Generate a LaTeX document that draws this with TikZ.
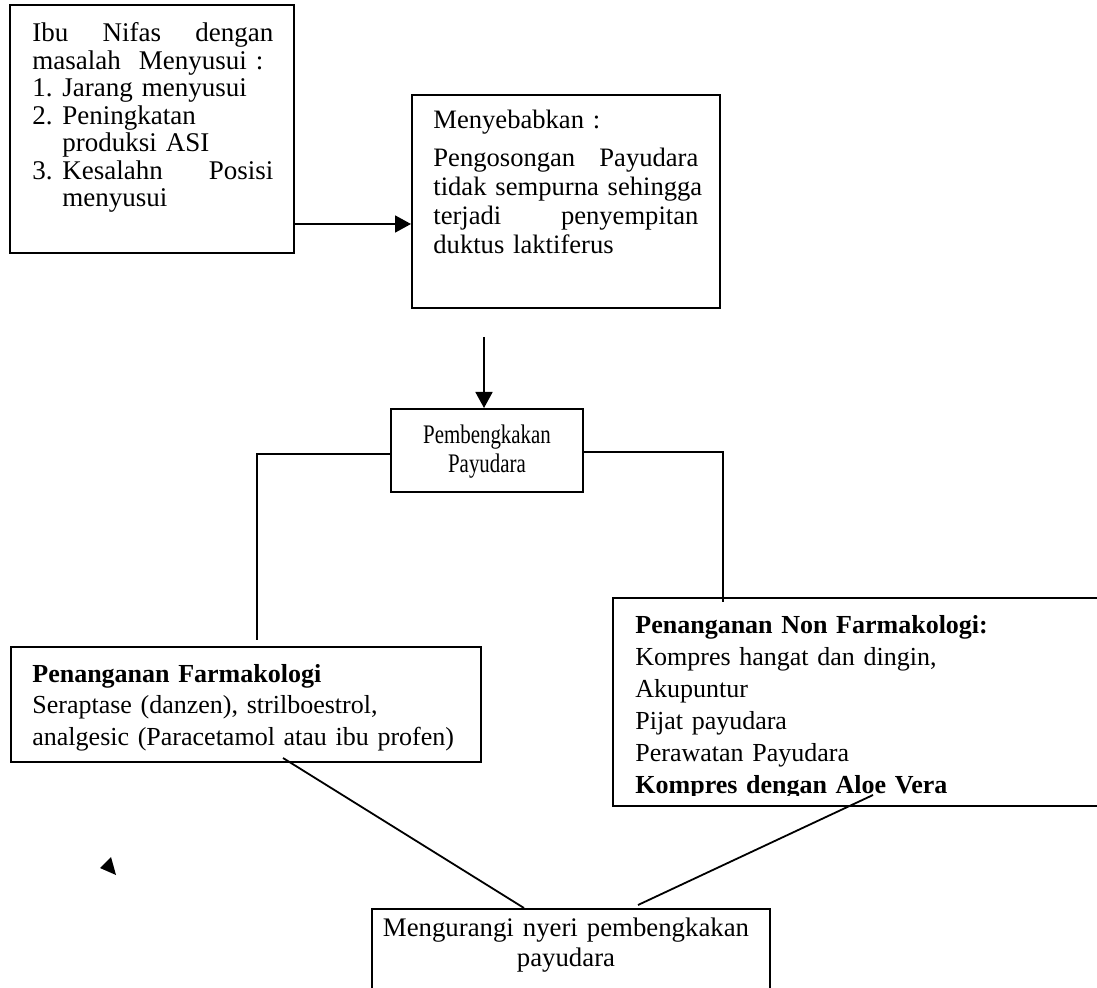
\documentclass[tikz,border=0pt]{standalone}
\usepackage{fontspec}
\setmainfont{Liberation Serif}
\usetikzlibrary{arrows.meta,fit}
\begin{document}
\begin{tikzpicture}[x=0.5pt,y=-0.5pt,
  box/.style={draw, line width=1pt, inner sep=0pt, rectangle},
  conn/.style={line width=0.9pt},
  arr/.style={conn, -{Triangle[length=8pt,width=8.5pt]}},
  txt/.style={inner sep=0pt, anchor=base west, align=left},
  ctxt/.style={inner sep=0pt, anchor=base, align=center},
]
\useasboundingbox (0,0) rectangle (1097,988);

% boxes
\node[box, fit={(10,5) (294,253)}] (box1) {};
\node[box, fit={(412,95) (720,308)}] (box2) {};
\node[box, fit={(391,409) (583,492)}] (box3) {};
\node[box, fit={(613,598) (1110,806)}] (box4) {};
\node[box, fit={(11,647) (481,762)}] (box5) {};
\node[box, fit={(372,909) (770,1010)}] (box6) {};

% texts
\node[txt, text width=120.5pt, font=\fontsize{13.5pt}{13.75pt}\selectfont] (t1) at (32,42) {%
Ibu\hfill Nifas\hfill dengan\\
masalah~ Menyusui :\\
\makebox[15pt][l]{1.}Jarang menyusui\\
\makebox[15pt][l]{2.}Peningkatan\\
\hspace*{15pt}produksi ASI\\
\makebox[15pt][l]{3.}Kesalahn\hfill Posisi\\
\hspace*{15pt}menyusui};

\node[txt, text width=132.5pt, font=\fontsize{13.3pt}{14.5pt}\selectfont] (t2) at (433,129) {%
Menyebabkan :\\[4.5pt]
Pengosongan\hfill Payudara\\
\makebox[\linewidth][s]{tidak sempurna sehingga}\\
terjadi\hfill penyempitan\\
duktus laktiferus};

\node[ctxt, text width=90pt, font=\fontsize{13.4pt}{14.25pt}\selectfont] (t3) at (487,444) {%
\scalebox{0.78}[1]{Pembengkakan}\\\scalebox{0.78}[1]{Payudara}};

\node[txt, text width=230pt, font=\fontsize{13pt}{15.75pt}\selectfont] (t5) at (32,682) {%
\textbf{Penanganan Farmakologi}\\
Seraptase (danzen), strilboestrol,\\
analgesic (Paracetamol atau ibu profen)};

\begin{scope}
\clip (613,598) rectangle (1097,795);
\node[txt, text width=225pt, font=\fontsize{13pt}{16pt}\selectfont] (t4) at (635,633) {%
\textbf{Penanganan Non Farmakologi:}\\
Kompres hangat dan dingin,\\
Akupuntur\\
Pijat payudara\\
Perawatan Payudara\\
\textbf{Kompres dengan Aloe Vera}};
\end{scope}

\node[ctxt, text width=195pt, font=\fontsize{13.4pt}{15pt}\selectfont] (t6) at (566,936) {%
Mengurangi nyeri pembengkakan\\payudara};

% connector coordinates
\coordinate (A1) at (300,224);
\coordinate (A0) at (484,337);
\coordinate (L1) at (257,454);
\coordinate (L2) at (257,640);
\coordinate (R1) at (723,452);
\coordinate (R2) at (723,602);
\coordinate (D1) at (283,758);
\coordinate (D1e) at (524,908);
\coordinate (D2) at (873,795);
\coordinate (D2e) at (638,905);

% connectors
\draw[arr] (box1.east |- A1) -- (A1 -| box2.west);
\draw[arr] (A0) -- (A0 |- box3.north);
\draw[conn] (box3.west |- L1) -- (L1) -- (L2);
\draw[conn] (box3.east |- R1) -- (R1) -- (R2);
\draw[conn] (D1) -- (D1e |- box6.north);
\draw[conn] (D2) -- (D2e);

% stray arrowhead
\fill (100,868) -- (111,857) -- (116,875) -- cycle;
\end{tikzpicture}
\end{document}
